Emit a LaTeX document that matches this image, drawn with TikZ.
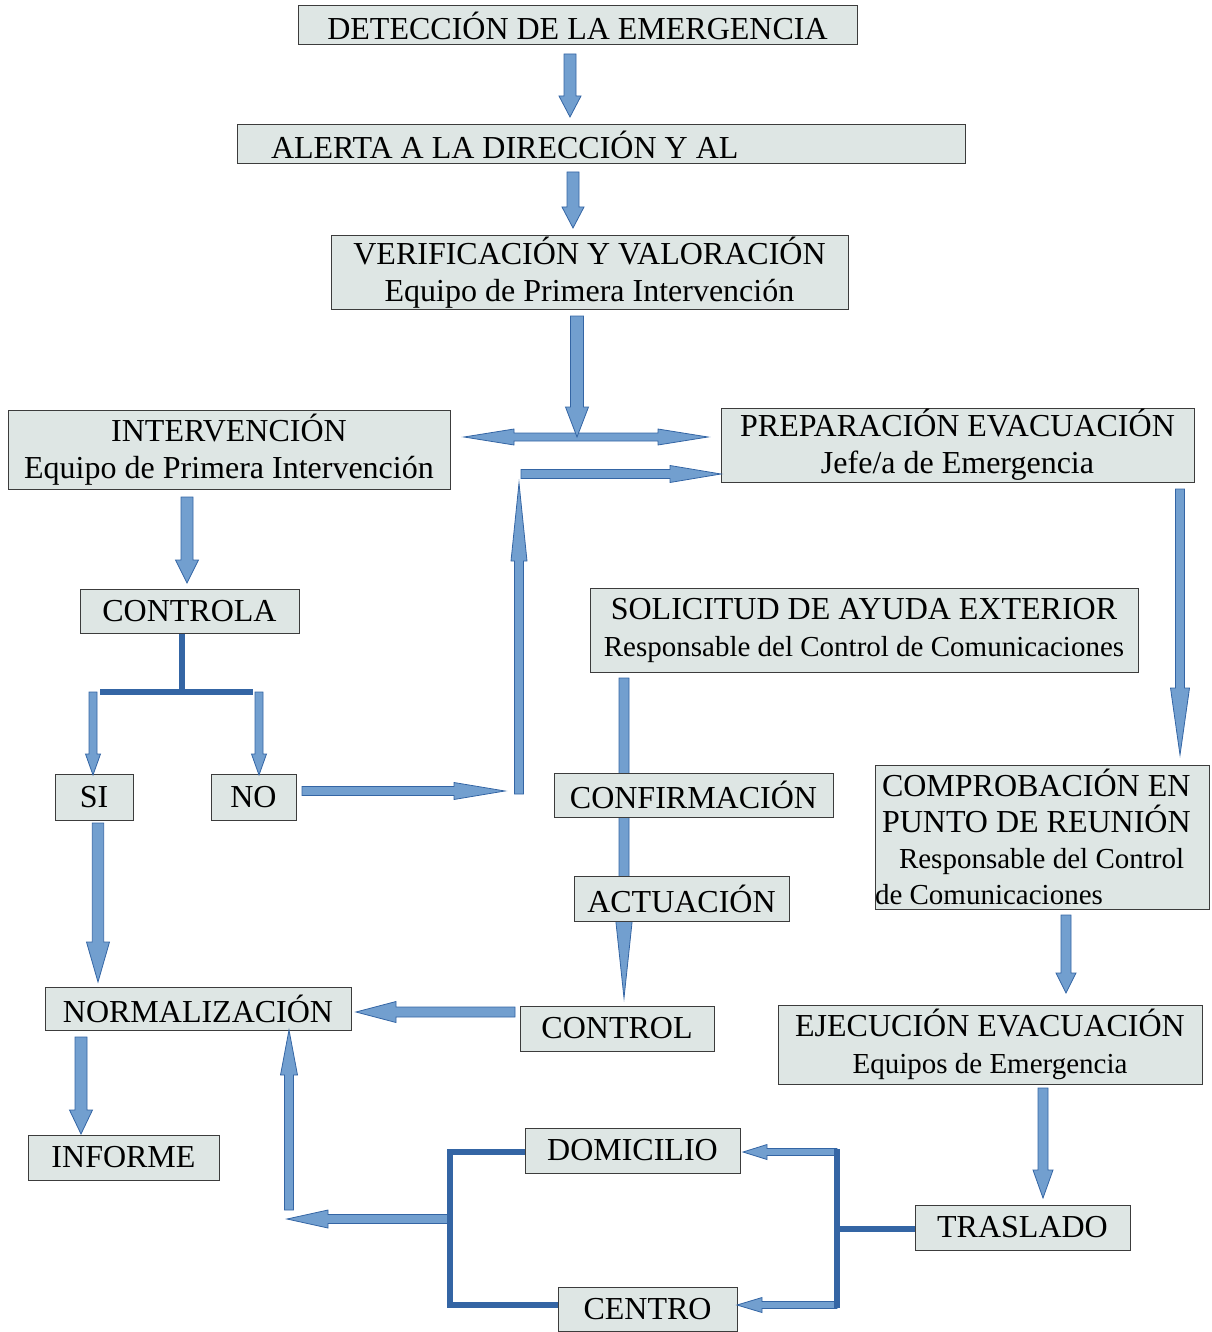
\documentclass[tikz,border=0pt]{standalone}
\usepackage{fontspec}
\setmainfont{Liberation Serif}
\usetikzlibrary{calc}
\definecolor{boxfill}{HTML}{DEE6E4}
\definecolor{boxline}{HTML}{3C3C3C}
\definecolor{arrfill}{HTML}{729FCF}
\definecolor{arrline}{HTML}{3465A4}
\tikzset{
  box/.style={draw=boxline, line width=1pt, fill=boxfill, inner sep=0pt, align=center,
    font=\fontsize{32}{37}\selectfont},
  blockst/.style={fill=arrfill, draw=arrline, line width=0.8pt, line join=miter},
  darkline/.style={draw=arrline, line width=6.5pt},
}
% block arrow: start, end, half shaft, half head, head length
\newcommand{\blockarr}[5]{%
  \path ($(#2)!#5!(#1)$) coordinate (bhtmp);
  \draw[blockst] ($(#1)!#3!90:(#2)$) -- ($(bhtmp)!#3!90:(#2)$) -- ($(bhtmp)!#4!90:(#2)$) -- (#2)
    -- ($(bhtmp)!#4!-90:(#2)$) -- ($(bhtmp)!#3!-90:(#2)$) -- ($(#1)!#3!-90:(#2)$) -- cycle;
}
% double block arrow
\newcommand{\dblarr}[5]{%
  \path ($(#1)!#5!(#2)$) coordinate (hatmp);
  \path ($(#2)!#5!(#1)$) coordinate (hbtmp);
  \draw[blockst] (#1) -- ($(hatmp)!#4!90:(#2)$) -- ($(hatmp)!#3!90:(#2)$) -- ($(hbtmp)!#3!-90:(#1)$)
    -- ($(hbtmp)!#4!-90:(#1)$) -- (#2) -- ($(hbtmp)!#4!90:(#1)$) -- ($(hbtmp)!#3!90:(#1)$)
    -- ($(hatmp)!#3!-90:(#2)$) -- ($(hatmp)!#4!-90:(#2)$) -- cycle;
}
\begin{document}
\begin{tikzpicture}[x=1pt, y=-1pt]
\useasboundingbox (0,0) rectangle (1211,1332);

% arrow that passes behind CONFIRMACION and ACTUACION
\coordinate (n1) at (624,678);
\coordinate (n2) at (624,998);
\blockarr{n1}{n2}{5pt}{8.5pt}{80pt}

% boxes
\node[box, minimum width=559pt, minimum height=39pt] (det) at (577.5,25.5) {DETECCIÓN DE LA EMERGENCIA};
\node[box, text width=728pt, minimum height=39pt, align=flush left] (alert) at (601,144.5) {\hspace*{34pt}ALERTA A LA DIRECCIÓN Y AL};
\node[box, minimum width=517pt, minimum height=73pt] (verif) at (589.5,272.5) {VERIFICACIÓN Y VALORACIÓN\\Equipo de Primera Intervención};
\node[box, minimum width=442pt, minimum height=79pt] (interv) at (229,449.5) {INTERVENCIÓN\\Equipo de Primera Intervención};
\node[box, minimum width=473pt, minimum height=74pt] (prep) at (957.5,445) {PREPARACIÓN EVACUACIÓN\\Jefe/a de Emergencia};
\node[box, minimum width=219pt, minimum height=44pt] (controla) at (189.5,611) {CONTROLA};
\node[box, minimum width=548pt, minimum height=84pt] (solic) at (864,630) {SOLICITUD DE AYUDA EXTERIOR\\{\fontsize{29}{37}\selectfont Responsable del Control de Comunicaciones}};
\node[box, minimum width=78pt, minimum height=46pt] (si) at (94,797) {SI};
\node[box, minimum width=85pt, minimum height=46pt] (no) at (253.5,797) {NO};
\node[box, minimum width=279pt, minimum height=44pt] (confirm) at (693.5,795) {CONFIRMACIÓN};
\node[box, text width=334pt, minimum height=144pt, align=flush left, font=\fontsize{32}{36}\selectfont] (comprob) at (1042,837) {\hspace*{7pt}COMPROBACIÓN EN\\\hspace*{7pt}PUNTO DE REUNIÓN\\{\fontsize{29}{35}\selectfont\hspace*{24pt}Responsable del Control}\\{\fontsize{29}{34}\selectfont de Comunicaciones}};
\node[box, minimum width=215pt, minimum height=45pt] (actu) at (681.5,898.5) {ACTUACIÓN};
\node[box, minimum width=306pt, minimum height=43pt] (normal) at (198,1008.5) {NORMALIZACIÓN};
\node[box, minimum width=194pt, minimum height=45pt] (control) at (617,1028.5) {CONTROL};
\node[box, minimum width=424pt, minimum height=79pt] (ejec) at (990,1044.5) {EJECUCIÓN EVACUACIÓN\\{\fontsize{29}{37}\selectfont Equipos de Emergencia}};
\node[box, minimum width=191pt, minimum height=45pt] (informe) at (123.5,1157.5) {INFORME};
\node[box, minimum width=215pt, minimum height=45pt] (domic) at (632.5,1150.5) {DOMICILIO};
\node[box, minimum width=215pt, minimum height=45pt] (trasl) at (1022.5,1227.5) {TRASLADO};
\node[box, minimum width=179pt, minimum height=44pt] (centro) at (647.5,1309) {CENTRO};

% connector coordinates
\coordinate (a1) at (570,54);   \coordinate (a2) at (570,117);
\coordinate (b1) at (573,172);  \coordinate (b2) at (573,228);
\coordinate (c1) at (577,316);  \coordinate (c2) at (577,437);
\coordinate (d1) at (464,437);  \coordinate (d2) at (708,437);
\coordinate (e1) at (521,474);  \coordinate (e2) at (721,474);
\coordinate (f1) at (519,794);  \coordinate (f2) at (519,483);
\coordinate (g1) at (302,791);  \coordinate (g2) at (505,791);
\coordinate (h1) at (187,497);  \coordinate (h2) at (187,583);
\coordinate (i1) at (93,692);   \coordinate (i2) at (93,775);
\coordinate (j1) at (259,692);  \coordinate (j2) at (259,775);
\coordinate (l1) at (98,823);   \coordinate (l2) at (98,982);
\coordinate (m1) at (81,1037);  \coordinate (m2) at (81,1134);
\coordinate (o1) at (515,1012); \coordinate (o2) at (356,1012);
\coordinate (p1) at (289,1210); \coordinate (p2) at (289,1030);
\coordinate (q1) at (448,1219); \coordinate (q2) at (287,1219);
\coordinate (r1) at (1180,489); \coordinate (r2) at (1180,755);
\coordinate (s1) at (1066,915); \coordinate (s2) at (1066,993);
\coordinate (t1) at (1043,1088);\coordinate (t2) at (1043,1198);
\coordinate (u1) at (837,1152); \coordinate (u2) at (743,1152);
\coordinate (v1) at (837,1305); \coordinate (v2) at (737,1305);

% block arrows
\blockarr{a1}{a2}{6pt}{11pt}{21pt}
\blockarr{b1}{b2}{6pt}{11pt}{21pt}
\dblarr{d1}{d2}{4pt}{8pt}{50pt}
\blockarr{c1}{c2}{6.5pt}{11.5pt}{30pt}
\blockarr{e1}{e2}{4.5pt}{8.5pt}{51pt}
\blockarr{f1}{f2}{4.5pt}{8pt}{78pt}
\blockarr{g1}{g2}{4.5pt}{8.5pt}{51pt}
\blockarr{h1}{h2}{6pt}{11.5pt}{23pt}
\blockarr{i1}{i2}{4pt}{7.5pt}{21pt}
\blockarr{j1}{j2}{4pt}{7.5pt}{21pt}
\blockarr{l1}{l2}{5.7pt}{11.5pt}{40pt}
\blockarr{m1}{m2}{6pt}{11.5pt}{24pt}
\blockarr{o1}{o2}{5pt}{10.5pt}{40pt}
\blockarr{p1}{p2}{4.5pt}{8.5pt}{45pt}
\blockarr{q1}{q2}{4.5pt}{9pt}{41pt}
\blockarr{r1}{r2}{4.5pt}{9.5pt}{67pt}
\blockarr{s1}{s2}{5pt}{10pt}{20pt}
\blockarr{t1}{t2}{5pt}{10pt}{28pt}
\blockarr{u1}{u2}{3.5pt}{7.5pt}{24pt}
\blockarr{v1}{v2}{3.5pt}{7.5pt}{25pt}

% dark connector lines
\coordinate (k1) at (182,692);
\coordinate (k2) at (100,692);
\coordinate (k3) at (253,692);
\draw[darkline] (controla.south -| k1) -- (k1);
\draw[darkline] (k2) -- (k3);
\coordinate (w1) at (450,1152);
\coordinate (w2) at (450,1305);
\draw[darkline, line join=miter] (domic.west |- w1) -- (w1) -- (w2) -- (centro.west |- w2);
\coordinate (x1) at (837,1229);
\coordinate (x2) at (837,1149);
\coordinate (x3) at (837,1308);
\draw[darkline] (trasl.west |- x1) -- (x1);
\draw[darkline] (x2) -- (x3);
\end{tikzpicture}
\end{document}
